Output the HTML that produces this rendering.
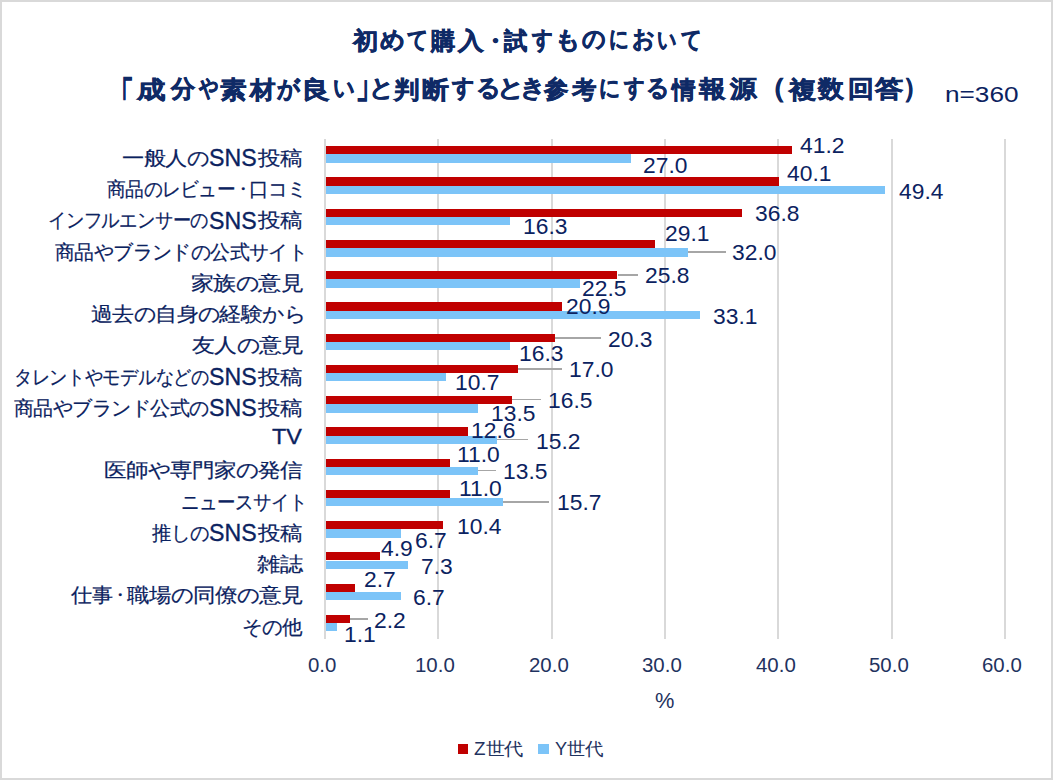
<!DOCTYPE html>
<html><head><meta charset="utf-8"><style>
html,body{margin:0;padding:0;background:#fff;}
body{width:1053px;height:780px;position:relative;overflow:hidden;font-family:'Liberation Sans',sans-serif;}
.frame{position:absolute;left:0;top:0;width:1049px;height:776px;border:2px solid #d9d9d9;}
.t{position:absolute;white-space:nowrap;line-height:1;transform-origin:0 0;}
.g{position:absolute;width:2px;background:#d9d9d9;top:138.8px;height:499.8px;}
.bz{position:absolute;background:#c00000;}
.by{position:absolute;background:#7cc4f8;}
.ld{position:absolute;height:1.5px;background:#a6a6a6;}
</style></head><body>
<div class="frame"></div>

<div class="g" style="left:323.9px"></div>
<div class="g" style="left:437.22px"></div>
<div class="g" style="left:550.54px"></div>
<div class="g" style="left:663.86px"></div>
<div class="g" style="left:777.18px"></div>
<div class="g" style="left:890.5px"></div>
<div class="g" style="left:1003.82px"></div>
<div class="ld" style="left:687.8px;width:38px;top:251.05px"></div>
<div class="ld" style="left:617.9px;width:20.4px;top:274.05px"></div>
<div class="ld" style="left:554.9px;width:46.1px;top:337.15px"></div>
<div class="ld" style="left:517.9px;width:43.7px;top:368.25px"></div>
<div class="ld" style="left:512.2px;width:28.5px;top:398.85px"></div>
<div class="ld" style="left:497px;width:30.7px;top:438.95px"></div>
<div class="ld" style="left:478px;width:18px;top:469.85px"></div>
<div class="ld" style="left:502.7px;width:45.9px;top:501.05px"></div>
<div class="ld" style="left:350px;width:17.9px;top:618.15px"></div>
<div class="bz" style="left:325.6px;top:146.22px;width:466.18px;height:8.2px"></div>
<div class="by" style="left:325.6px;top:154.42px;width:305.26px;height:8.4px"></div>
<div class="bz" style="left:325.6px;top:177.46px;width:453.71px;height:8.2px"></div>
<div class="by" style="left:325.6px;top:185.66px;width:559.1px;height:8.4px"></div>
<div class="bz" style="left:325.6px;top:208.69px;width:416.32px;height:8.2px"></div>
<div class="by" style="left:325.6px;top:216.89px;width:184.01px;height:8.4px"></div>
<div class="bz" style="left:325.6px;top:239.93px;width:329.06px;height:8.2px"></div>
<div class="by" style="left:325.6px;top:248.13px;width:361.92px;height:8.4px"></div>
<div class="bz" style="left:325.6px;top:271.17px;width:291.67px;height:8.2px"></div>
<div class="by" style="left:325.6px;top:279.37px;width:254.27px;height:8.4px"></div>
<div class="bz" style="left:325.6px;top:302.41px;width:236.14px;height:8.2px"></div>
<div class="by" style="left:325.6px;top:310.61px;width:374.39px;height:8.4px"></div>
<div class="bz" style="left:325.6px;top:333.64px;width:229.34px;height:8.2px"></div>
<div class="by" style="left:325.6px;top:341.84px;width:184.01px;height:8.4px"></div>
<div class="bz" style="left:325.6px;top:364.88px;width:191.94px;height:8.2px"></div>
<div class="by" style="left:325.6px;top:373.08px;width:120.55px;height:8.4px"></div>
<div class="bz" style="left:325.6px;top:396.12px;width:186.28px;height:8.2px"></div>
<div class="by" style="left:325.6px;top:404.32px;width:152.28px;height:8.4px"></div>
<div class="bz" style="left:325.6px;top:427.36px;width:142.08px;height:8.2px"></div>
<div class="by" style="left:325.6px;top:435.56px;width:171.55px;height:8.4px"></div>
<div class="bz" style="left:325.6px;top:458.59px;width:123.95px;height:8.2px"></div>
<div class="by" style="left:325.6px;top:466.79px;width:152.28px;height:8.4px"></div>
<div class="bz" style="left:325.6px;top:489.83px;width:123.95px;height:8.2px"></div>
<div class="by" style="left:325.6px;top:498.03px;width:177.21px;height:8.4px"></div>
<div class="bz" style="left:325.6px;top:521.07px;width:117.15px;height:8.2px"></div>
<div class="by" style="left:325.6px;top:529.27px;width:75.22px;height:8.4px"></div>
<div class="bz" style="left:325.6px;top:552.31px;width:54.83px;height:8.2px"></div>
<div class="by" style="left:325.6px;top:560.51px;width:82.02px;height:8.4px"></div>
<div class="bz" style="left:325.6px;top:583.54px;width:29.9px;height:8.2px"></div>
<div class="by" style="left:325.6px;top:591.74px;width:75.22px;height:8.4px"></div>
<div class="bz" style="left:325.6px;top:614.78px;width:24.23px;height:8.2px"></div>
<div class="by" style="left:325.6px;top:622.98px;width:11.77px;height:8.4px"></div>
<div class="bz" style="left:458px;top:743.6px;width:10.2px;height:10.2px"></div>
<div class="by" style="left:538.2px;top:743.6px;width:10.4px;height:10.2px"></div>
<div class="t" style="left:352.83px;top:29.28px;font-family:'Liberation Sans',sans-serif;font-weight:bold;font-size:24px;color:#0f2a66;-webkit-text-stroke:0.6px #0f2a66;transform:scale(1.0333,0.9840)">初</div>
<div class="t" style="left:380px;top:28.3px;font-family:'Liberation Sans',sans-serif;font-weight:bold;font-size:24px;color:#0f2a66;-webkit-text-stroke:0.6px #0f2a66;transform:scale(1.0043,0.9840)">め</div>
<div class="t" style="left:407.4px;top:27.81px;font-family:'Liberation Sans',sans-serif;font-weight:bold;font-size:24px;color:#0f2a66;-webkit-text-stroke:0.6px #0f2a66;transform:scale(0.8545,0.9840)">て</div>
<div class="t" style="left:430.59px;top:28.79px;font-family:'Liberation Sans',sans-serif;font-weight:bold;font-size:24px;color:#0f2a66;-webkit-text-stroke:0.6px #0f2a66;transform:scale(0.9920,0.9840)">購</div>
<div class="t" style="left:458.05px;top:28.79px;font-family:'Liberation Sans',sans-serif;font-weight:bold;font-size:24px;color:#0f2a66;-webkit-text-stroke:0.6px #0f2a66;transform:scale(1.0500,0.9840)">入</div>
<div class="t" style="left:483px;top:29.28px;font-family:'Liberation Sans',sans-serif;font-weight:bold;font-size:24px;color:#0f2a66;-webkit-text-stroke:0.6px #0f2a66;transform:scale(1.0000,0.9840)">・</div>
<div class="t" style="left:504.06px;top:29.28px;font-family:'Liberation Sans',sans-serif;font-weight:bold;font-size:24px;color:#0f2a66;-webkit-text-stroke:0.6px #0f2a66;transform:scale(0.9560,0.9840)">試</div>
<div class="t" style="left:532.24px;top:27.81px;font-family:'Liberation Sans',sans-serif;font-weight:bold;font-size:24px;color:#0f2a66;-webkit-text-stroke:0.6px #0f2a66;transform:scale(0.8440,0.9840)">す</div>
<div class="t" style="left:554.73px;top:28.3px;font-family:'Liberation Sans',sans-serif;font-weight:bold;font-size:24px;color:#0f2a66;-webkit-text-stroke:0.6px #0f2a66;transform:scale(1.0222,0.9840)">も</div>
<div class="t" style="left:581.5px;top:27.32px;font-family:'Liberation Sans',sans-serif;font-weight:bold;font-size:24px;color:#0f2a66;-webkit-text-stroke:0.6px #0f2a66;transform:scale(0.9542,0.9840)">の</div>
<div class="t" style="left:608.8px;top:27.32px;font-family:'Liberation Sans',sans-serif;font-weight:bold;font-size:24px;color:#0f2a66;-webkit-text-stroke:0.6px #0f2a66;transform:scale(0.8000,0.9840)">に</div>
<div class="t" style="left:631.58px;top:27.32px;font-family:'Liberation Sans',sans-serif;font-weight:bold;font-size:24px;color:#0f2a66;-webkit-text-stroke:0.6px #0f2a66;transform:scale(0.9174,0.9840)">お</div>
<div class="t" style="left:656.91px;top:27.81px;font-family:'Liberation Sans',sans-serif;font-weight:bold;font-size:24px;color:#0f2a66;-webkit-text-stroke:0.6px #0f2a66;transform:scale(0.7872,0.9840)">い</div>
<div class="t" style="left:680.8px;top:27.81px;font-family:'Liberation Sans',sans-serif;font-weight:bold;font-size:24px;color:#0f2a66;-webkit-text-stroke:0.6px #0f2a66;transform:scale(0.8409,0.9840)">て</div>
<div class="t" style="left:110.06px;top:76.9px;font-family:'Liberation Sans',sans-serif;font-weight:bold;font-size:24px;color:#0f2a66;-webkit-text-stroke:0.6px #0f2a66;transform:scale(0.9800,1.7538)">「</div>
<div class="t" style="left:137.07px;top:77.68px;font-family:'Liberation Sans',sans-serif;font-weight:bold;font-size:24px;color:#0f2a66;-webkit-text-stroke:0.6px #0f2a66;transform:scale(1.1680,0.9840)">成</div>
<div class="t" style="left:170.69px;top:77.19px;font-family:'Liberation Sans',sans-serif;font-weight:bold;font-size:24px;color:#0f2a66;-webkit-text-stroke:0.6px #0f2a66;transform:scale(0.9885,0.9840)">分</div>
<div class="t" style="left:198.95px;top:76.21px;font-family:'Liberation Sans',sans-serif;font-weight:bold;font-size:24px;color:#0f2a66;-webkit-text-stroke:0.6px #0f2a66;transform:scale(0.7872,0.9840)">や</div>
<div class="t" style="left:219.5px;top:77.68px;font-family:'Liberation Sans',sans-serif;font-weight:bold;font-size:24px;color:#0f2a66;-webkit-text-stroke:0.6px #0f2a66;transform:scale(1.0875,0.9840)">素</div>
<div class="t" style="left:249.74px;top:77.68px;font-family:'Liberation Sans',sans-serif;font-weight:bold;font-size:24px;color:#0f2a66;-webkit-text-stroke:0.6px #0f2a66;transform:scale(1.0440,0.9840)">材</div>
<div class="t" style="left:276.9px;top:76.7px;font-family:'Liberation Sans',sans-serif;font-weight:bold;font-size:24px;color:#0f2a66;-webkit-text-stroke:0.6px #0f2a66;transform:scale(0.9269,0.9840)">が</div>
<div class="t" style="left:300.61px;top:77.68px;font-family:'Liberation Sans',sans-serif;font-weight:bold;font-size:24px;color:#0f2a66;-webkit-text-stroke:0.6px #0f2a66;transform:scale(1.1952,0.9840)">良</div>
<div class="t" style="left:332.53px;top:76.21px;font-family:'Liberation Sans',sans-serif;font-weight:bold;font-size:24px;color:#0f2a66;-webkit-text-stroke:0.6px #0f2a66;transform:scale(0.8739,0.9840)">い</div>
<div class="t" style="left:356.35px;top:64.44px;font-family:'Liberation Sans',sans-serif;font-weight:bold;font-size:24px;color:#0f2a66;-webkit-text-stroke:0.6px #0f2a66;transform:scale(1.0500,1.6286)">」</div>
<div class="t" style="left:369.48px;top:76.21px;font-family:'Liberation Sans',sans-serif;font-weight:bold;font-size:24px;color:#0f2a66;-webkit-text-stroke:0.6px #0f2a66;transform:scale(1.0059,0.9840)">と</div>
<div class="t" style="left:394.04px;top:77.68px;font-family:'Liberation Sans',sans-serif;font-weight:bold;font-size:24px;color:#0f2a66;-webkit-text-stroke:0.6px #0f2a66;transform:scale(1.0440,0.9840)">判</div>
<div class="t" style="left:421.8px;top:77.68px;font-family:'Liberation Sans',sans-serif;font-weight:bold;font-size:24px;color:#0f2a66;-webkit-text-stroke:0.6px #0f2a66;transform:scale(1.1042,0.9840)">断</div>
<div class="t" style="left:451.8px;top:76.21px;font-family:'Liberation Sans',sans-serif;font-weight:bold;font-size:24px;color:#0f2a66;-webkit-text-stroke:0.6px #0f2a66;transform:scale(0.9000,0.9840)">す</div>
<div class="t" style="left:475.61px;top:76.21px;font-family:'Liberation Sans',sans-serif;font-weight:bold;font-size:24px;color:#0f2a66;-webkit-text-stroke:0.6px #0f2a66;transform:scale(0.9950,0.9840)">る</div>
<div class="t" style="left:497.28px;top:76.21px;font-family:'Liberation Sans',sans-serif;font-weight:bold;font-size:24px;color:#0f2a66;-webkit-text-stroke:0.6px #0f2a66;transform:scale(1.1059,0.9840)">と</div>
<div class="t" style="left:519.88px;top:75.72px;font-family:'Liberation Sans',sans-serif;font-weight:bold;font-size:24px;color:#0f2a66;-webkit-text-stroke:0.6px #0f2a66;transform:scale(1.0412,0.9840)">き</div>
<div class="t" style="left:543.8px;top:77.19px;font-family:'Liberation Sans',sans-serif;font-weight:bold;font-size:24px;color:#0f2a66;-webkit-text-stroke:0.6px #0f2a66;transform:scale(1.0040,0.9840)">参</div>
<div class="t" style="left:572px;top:77.68px;font-family:'Liberation Sans',sans-serif;font-weight:bold;font-size:24px;color:#0f2a66;-webkit-text-stroke:0.6px #0f2a66;transform:scale(1.0040,0.9840)">考</div>
<div class="t" style="left:599.45px;top:75.72px;font-family:'Liberation Sans',sans-serif;font-weight:bold;font-size:24px;color:#0f2a66;-webkit-text-stroke:0.6px #0f2a66;transform:scale(0.8545,0.9840)">に</div>
<div class="t" style="left:624.14px;top:76.21px;font-family:'Liberation Sans',sans-serif;font-weight:bold;font-size:24px;color:#0f2a66;-webkit-text-stroke:0.6px #0f2a66;transform:scale(0.8360,0.9840)">す</div>
<div class="t" style="left:646.41px;top:76.21px;font-family:'Liberation Sans',sans-serif;font-weight:bold;font-size:24px;color:#0f2a66;-webkit-text-stroke:0.6px #0f2a66;transform:scale(0.9450,0.9840)">る</div>
<div class="t" style="left:672.23px;top:77.68px;font-family:'Liberation Sans',sans-serif;font-weight:bold;font-size:24px;color:#0f2a66;-webkit-text-stroke:0.6px #0f2a66;transform:scale(0.9654,0.9840)">情</div>
<div class="t" style="left:699.1px;top:77.19px;font-family:'Liberation Sans',sans-serif;font-weight:bold;font-size:24px;color:#0f2a66;-webkit-text-stroke:0.6px #0f2a66;transform:scale(1.0962,0.9840)">報</div>
<div class="t" style="left:729.8px;top:77.19px;font-family:'Liberation Sans',sans-serif;font-weight:bold;font-size:24px;color:#0f2a66;-webkit-text-stroke:0.6px #0f2a66;transform:scale(1.0962,0.9840)">源</div>
<div class="t" style="left:758.4px;top:73.68px;font-family:'Liberation Sans',sans-serif;font-weight:bold;font-size:24px;color:#0f2a66;-webkit-text-stroke:0.6px #0f2a66;transform:scale(1.2000,1.1409)">（</div>
<div class="t" style="left:788.91px;top:77.68px;font-family:'Liberation Sans',sans-serif;font-weight:bold;font-size:24px;color:#0f2a66;-webkit-text-stroke:0.6px #0f2a66;transform:scale(1.1120,0.9840)">複</div>
<div class="t" style="left:818.06px;top:77.19px;font-family:'Liberation Sans',sans-serif;font-weight:bold;font-size:24px;color:#0f2a66;-webkit-text-stroke:0.6px #0f2a66;transform:scale(1.0577,0.9840)">数</div>
<div class="t" style="left:848.24px;top:76.7px;font-family:'Liberation Sans',sans-serif;font-weight:bold;font-size:24px;color:#0f2a66;-webkit-text-stroke:0.6px #0f2a66;transform:scale(1.0619,0.9840)">回</div>
<div class="t" style="left:875.35px;top:77.19px;font-family:'Liberation Sans',sans-serif;font-weight:bold;font-size:24px;color:#0f2a66;-webkit-text-stroke:0.6px #0f2a66;transform:scale(1.1520,0.9840)">答</div>
<div class="t" style="left:902.7px;top:73.68px;font-family:'Liberation Sans',sans-serif;font-weight:bold;font-size:24px;color:#0f2a66;-webkit-text-stroke:0.6px #0f2a66;transform:scale(1.0500,1.1409)">）</div>
<div class="t" style="left:944.69px;top:82.88px;font-family:'Liberation Sans',sans-serif;font-size:20px;color:#0b2260;transform:scale(1.3091,1.1071)">n=360</div>
<div class="t" style="left:121.92px;top:147.97px;font-family:'Liberation Sans',sans-serif;font-size:20px;color:#0b2260;-webkit-text-stroke:0.2px #0b2260;transform:scale(1.0835,0.9750)">一般人の</div>
<div class="t" style="left:208.84px;top:146.4px;font-family:'Liberation Sans',sans-serif;font-size:20px;color:#0b2260;-webkit-text-stroke:0.3px #0b2260;transform:scale(1.1575,1.1571)">SNS</div>
<div class="t" style="left:257.8px;top:147.97px;font-family:'Liberation Sans',sans-serif;font-size:20px;color:#0b2260;-webkit-text-stroke:0.2px #0b2260;transform:scale(1.0975,0.9750)">投稿</div>
<div class="t" style="left:107.4px;top:179.21px;font-family:'Liberation Sans',sans-serif;font-size:20px;color:#0b2260;-webkit-text-stroke:0.2px #0b2260;transform:scale(0.9129,0.9750)">商品のレビュー</div>
<div class="t" style="left:234px;top:179.96px;font-family:'Liberation Sans',sans-serif;font-size:20px;color:#0b2260;-webkit-text-stroke:0.2px #0b2260;transform:scale(0.9000,0.9000)">・</div>
<div class="t" style="left:248.99px;top:179.21px;font-family:'Liberation Sans',sans-serif;font-size:20px;color:#0b2260;-webkit-text-stroke:0.2px #0b2260;transform:scale(0.9547,0.9750)">口コミ</div>
<div class="t" style="left:48.42px;top:210.44px;font-family:'Liberation Sans',sans-serif;font-size:20px;color:#0b2260;-webkit-text-stroke:0.2px #0b2260;transform:scale(0.8899,0.9750)">インフルエンサーの</div>
<div class="t" style="left:208.84px;top:208.87px;font-family:'Liberation Sans',sans-serif;font-size:20px;color:#0b2260;-webkit-text-stroke:0.3px #0b2260;transform:scale(1.1575,1.1571)">SNS</div>
<div class="t" style="left:257.8px;top:210.44px;font-family:'Liberation Sans',sans-serif;font-size:20px;color:#0b2260;-webkit-text-stroke:0.2px #0b2260;transform:scale(1.0975,0.9750)">投稿</div>
<div class="t" style="left:54.7px;top:241.68px;font-family:'Liberation Sans',sans-serif;font-size:20px;color:#0b2260;-webkit-text-stroke:0.2px #0b2260;transform:scale(0.9698,0.9750)">商品やブランドの公式サイト</div>
<div class="t" style="left:190.88px;top:272.92px;font-family:'Liberation Sans',sans-serif;font-size:20px;color:#0b2260;-webkit-text-stroke:0.2px #0b2260;transform:scale(1.1224,0.9750)">家族の意見</div>
<div class="t" style="left:91.2px;top:304.16px;font-family:'Liberation Sans',sans-serif;font-size:20px;color:#0b2260;-webkit-text-stroke:0.2px #0b2260;transform:scale(1.0701,0.9750)">過去の自身の経験から</div>
<div class="t" style="left:191.5px;top:335.39px;font-family:'Liberation Sans',sans-serif;font-size:20px;color:#0b2260;-webkit-text-stroke:0.2px #0b2260;transform:scale(1.1162,0.9750)">友人の意見</div>
<div class="t" style="left:14.03px;top:366.63px;font-family:'Liberation Sans',sans-serif;font-size:20px;color:#0b2260;-webkit-text-stroke:0.2px #0b2260;transform:scale(0.8844,0.9750)">タレントやモデルなどの</div>
<div class="t" style="left:208.84px;top:365.06px;font-family:'Liberation Sans',sans-serif;font-size:20px;color:#0b2260;-webkit-text-stroke:0.3px #0b2260;transform:scale(1.1575,1.1571)">SNS</div>
<div class="t" style="left:257.8px;top:366.63px;font-family:'Liberation Sans',sans-serif;font-size:20px;color:#0b2260;-webkit-text-stroke:0.2px #0b2260;transform:scale(1.0975,0.9750)">投稿</div>
<div class="t" style="left:13.7px;top:397.87px;font-family:'Liberation Sans',sans-serif;font-size:20px;color:#0b2260;-webkit-text-stroke:0.2px #0b2260;transform:scale(0.9745,0.9750)">商品やブランド公式の</div>
<div class="t" style="left:208.84px;top:396.3px;font-family:'Liberation Sans',sans-serif;font-size:20px;color:#0b2260;-webkit-text-stroke:0.3px #0b2260;transform:scale(1.1575,1.1571)">SNS</div>
<div class="t" style="left:257.8px;top:397.87px;font-family:'Liberation Sans',sans-serif;font-size:20px;color:#0b2260;-webkit-text-stroke:0.2px #0b2260;transform:scale(1.0975,0.9750)">投稿</div>
<div class="t" style="left:272.3px;top:425.01px;font-family:'Liberation Sans',sans-serif;font-size:20px;color:#0b2260;-webkit-text-stroke:0.3px #0b2260;transform:scale(1.1692,1.0933)">TV</div>
<div class="t" style="left:103.8px;top:460.34px;font-family:'Liberation Sans',sans-serif;font-size:20px;color:#0b2260;-webkit-text-stroke:0.2px #0b2260;transform:scale(1.1011,0.9750)">医師や専門家の発信</div>
<div class="t" style="left:180.6px;top:491.58px;font-family:'Liberation Sans',sans-serif;font-size:20px;color:#0b2260;-webkit-text-stroke:0.2px #0b2260;transform:scale(0.8993,0.9750)">ニュースサイト</div>
<div class="t" style="left:152px;top:522.82px;font-family:'Liberation Sans',sans-serif;font-size:20px;color:#0b2260;-webkit-text-stroke:0.2px #0b2260;transform:scale(0.9433,0.9750)">推しの</div>
<div class="t" style="left:208.84px;top:521.25px;font-family:'Liberation Sans',sans-serif;font-size:20px;color:#0b2260;-webkit-text-stroke:0.3px #0b2260;transform:scale(1.1575,1.1571)">SNS</div>
<div class="t" style="left:257.8px;top:522.82px;font-family:'Liberation Sans',sans-serif;font-size:20px;color:#0b2260;-webkit-text-stroke:0.2px #0b2260;transform:scale(1.0975,0.9750)">投稿</div>
<div class="t" style="left:256.8px;top:554.06px;font-family:'Liberation Sans',sans-serif;font-size:20px;color:#0b2260;-webkit-text-stroke:0.2px #0b2260;transform:scale(1.1300,0.9750)">雑誌</div>
<div class="t" style="left:70.7px;top:585.29px;font-family:'Liberation Sans',sans-serif;font-size:20px;color:#0b2260;-webkit-text-stroke:0.2px #0b2260;transform:scale(1.0250,0.9750)">仕事</div>
<div class="t" style="left:110.7px;top:586.04px;font-family:'Liberation Sans',sans-serif;font-size:20px;color:#0b2260;-webkit-text-stroke:0.2px #0b2260;transform:scale(0.9000,0.9000)">・</div>
<div class="t" style="left:126.5px;top:585.29px;font-family:'Liberation Sans',sans-serif;font-size:20px;color:#0b2260;-webkit-text-stroke:0.2px #0b2260;transform:scale(1.0969,0.9750)">職場の同僚の意見</div>
<div class="t" style="left:242.2px;top:616.53px;font-family:'Liberation Sans',sans-serif;font-size:20px;color:#0b2260;-webkit-text-stroke:0.2px #0b2260;transform:scale(0.9966,0.9750)">その他</div>
<div class="t" style="left:799.7px;top:133.62px;font-family:'Liberation Sans',sans-serif;font-size:20px;color:#0b2260;transform:scale(1.1410,1.1429)">41.2</div>
<div class="t" style="left:642.86px;top:154.4px;font-family:'Liberation Sans',sans-serif;font-size:20px;color:#0b2260;transform:scale(1.1410,1.1429)">27.0</div>
<div class="t" style="left:786.5px;top:162.47px;font-family:'Liberation Sans',sans-serif;font-size:20px;color:#0b2260;transform:scale(1.1410,1.1429)">40.1</div>
<div class="t" style="left:898.6px;top:179.77px;font-family:'Liberation Sans',sans-serif;font-size:20px;color:#0b2260;transform:scale(1.1410,1.1429)">49.4</div>
<div class="t" style="left:755.36px;top:202.32px;font-family:'Liberation Sans',sans-serif;font-size:20px;color:#0b2260;transform:scale(1.1410,1.1429)">36.8</div>
<div class="t" style="left:522.56px;top:214.67px;font-family:'Liberation Sans',sans-serif;font-size:20px;color:#0b2260;transform:scale(1.1410,1.1429)">16.3</div>
<div class="t" style="left:665.46px;top:222.47px;font-family:'Liberation Sans',sans-serif;font-size:20px;color:#0b2260;transform:scale(1.1410,1.1429)">29.1</div>
<div class="t" style="left:732.06px;top:241.17px;font-family:'Liberation Sans',sans-serif;font-size:20px;color:#0b2260;transform:scale(1.1410,1.1429)">32.0</div>
<div class="t" style="left:645.26px;top:264.47px;font-family:'Liberation Sans',sans-serif;font-size:20px;color:#0b2260;transform:scale(1.1410,1.1429)">25.8</div>
<div class="t" style="left:582.06px;top:277.17px;font-family:'Liberation Sans',sans-serif;font-size:20px;color:#0b2260;transform:scale(1.1410,1.1429)">22.5</div>
<div class="t" style="left:566.26px;top:295.02px;font-family:'Liberation Sans',sans-serif;font-size:20px;color:#0b2260;transform:scale(1.1410,1.1429)">20.9</div>
<div class="t" style="left:713.06px;top:304.57px;font-family:'Liberation Sans',sans-serif;font-size:20px;color:#0b2260;transform:scale(1.1410,1.1429)">33.1</div>
<div class="t" style="left:608.06px;top:327.77px;font-family:'Liberation Sans',sans-serif;font-size:20px;color:#0b2260;transform:scale(1.1410,1.1429)">20.3</div>
<div class="t" style="left:518.66px;top:341.87px;font-family:'Liberation Sans',sans-serif;font-size:20px;color:#0b2260;transform:scale(1.1410,1.1429)">16.3</div>
<div class="t" style="left:568.96px;top:358.37px;font-family:'Liberation Sans',sans-serif;font-size:20px;color:#0b2260;transform:scale(1.1410,1.1429)">17.0</div>
<div class="t" style="left:454.96px;top:370.77px;font-family:'Liberation Sans',sans-serif;font-size:20px;color:#0b2260;transform:scale(1.1410,1.1429)">10.7</div>
<div class="t" style="left:548.06px;top:389.37px;font-family:'Liberation Sans',sans-serif;font-size:20px;color:#0b2260;transform:scale(1.1410,1.1429)">16.5</div>
<div class="t" style="left:491.26px;top:401.87px;font-family:'Liberation Sans',sans-serif;font-size:20px;color:#0b2260;transform:scale(1.1410,1.1429)">13.5</div>
<div class="t" style="left:470.76px;top:418.77px;font-family:'Liberation Sans',sans-serif;font-size:20px;color:#0b2260;transform:scale(1.1410,1.1429)">12.6</div>
<div class="t" style="left:535.76px;top:429.77px;font-family:'Liberation Sans',sans-serif;font-size:20px;color:#0b2260;transform:scale(1.1410,1.1429)">15.2</div>
<div class="t" style="left:456.86px;top:443.47px;font-family:'Liberation Sans',sans-serif;font-size:20px;color:#0b2260;transform:scale(1.1410,1.1429)">11.0</div>
<div class="t" style="left:503.46px;top:460.17px;font-family:'Liberation Sans',sans-serif;font-size:20px;color:#0b2260;transform:scale(1.1410,1.1429)">13.5</div>
<div class="t" style="left:458.86px;top:477.47px;font-family:'Liberation Sans',sans-serif;font-size:20px;color:#0b2260;transform:scale(1.1410,1.1429)">11.0</div>
<div class="t" style="left:557.36px;top:491.47px;font-family:'Liberation Sans',sans-serif;font-size:20px;color:#0b2260;transform:scale(1.1410,1.1429)">15.7</div>
<div class="t" style="left:457.06px;top:514.67px;font-family:'Liberation Sans',sans-serif;font-size:20px;color:#0b2260;transform:scale(1.1410,1.1429)">10.4</div>
<div class="t" style="left:414.86px;top:529.47px;font-family:'Liberation Sans',sans-serif;font-size:20px;color:#0b2260;transform:scale(1.1410,1.1429)">6.7</div>
<div class="t" style="left:381.2px;top:537.47px;font-family:'Liberation Sans',sans-serif;font-size:20px;color:#0b2260;transform:scale(1.1410,1.1429)">4.9</div>
<div class="t" style="left:420.66px;top:554.57px;font-family:'Liberation Sans',sans-serif;font-size:20px;color:#0b2260;transform:scale(1.1410,1.1429)">7.3</div>
<div class="t" style="left:364.46px;top:568.37px;font-family:'Liberation Sans',sans-serif;font-size:20px;color:#0b2260;transform:scale(1.1410,1.1429)">2.7</div>
<div class="t" style="left:413.26px;top:585.57px;font-family:'Liberation Sans',sans-serif;font-size:20px;color:#0b2260;transform:scale(1.1410,1.1429)">6.7</div>
<div class="t" style="left:373.86px;top:608.57px;font-family:'Liberation Sans',sans-serif;font-size:20px;color:#0b2260;transform:scale(1.1410,1.1429)">2.2</div>
<div class="t" style="left:343.56px;top:623.17px;font-family:'Liberation Sans',sans-serif;font-size:20px;color:#0b2260;transform:scale(1.1410,1.1429)">1.1</div>
<div class="t" style="left:307.89px;top:654.67px;font-family:'Liberation Sans',sans-serif;font-size:19px;color:#1f3360;transform:scale(1.0750,1.0769)">0.0</div>
<div class="t" style="left:415.29px;top:654.67px;font-family:'Liberation Sans',sans-serif;font-size:19px;color:#1f3360;transform:scale(1.0750,1.0769)">10.0</div>
<div class="t" style="left:528.61px;top:654.67px;font-family:'Liberation Sans',sans-serif;font-size:19px;color:#1f3360;transform:scale(1.0750,1.0769)">20.0</div>
<div class="t" style="left:641.93px;top:654.67px;font-family:'Liberation Sans',sans-serif;font-size:19px;color:#1f3360;transform:scale(1.0750,1.0769)">30.0</div>
<div class="t" style="left:755.79px;top:654.67px;font-family:'Liberation Sans',sans-serif;font-size:19px;color:#1f3360;transform:scale(1.0750,1.0769)">40.0</div>
<div class="t" style="left:868.57px;top:654.67px;font-family:'Liberation Sans',sans-serif;font-size:19px;color:#1f3360;transform:scale(1.0750,1.0769)">50.0</div>
<div class="t" style="left:981.89px;top:654.67px;font-family:'Liberation Sans',sans-serif;font-size:19px;color:#1f3360;transform:scale(1.0750,1.0769)">60.0</div>
<div class="t" style="left:655.4px;top:688.75px;font-family:'Liberation Sans',sans-serif;font-size:19px;color:#1f3360;transform:scale(1.1471,1.1846)">%</div>
<div class="t" style="left:473.8px;top:740.4px;font-family:'Liberation Sans',sans-serif;font-size:17px;color:#1f3360;transform:scale(1.1091,1.0400)">Z世代</div>
<div class="t" style="left:554.9px;top:740.4px;font-family:'Liberation Sans',sans-serif;font-size:17px;color:#1f3360;transform:scale(1.0689,1.0400)">Y世代</div>
</body></html>
